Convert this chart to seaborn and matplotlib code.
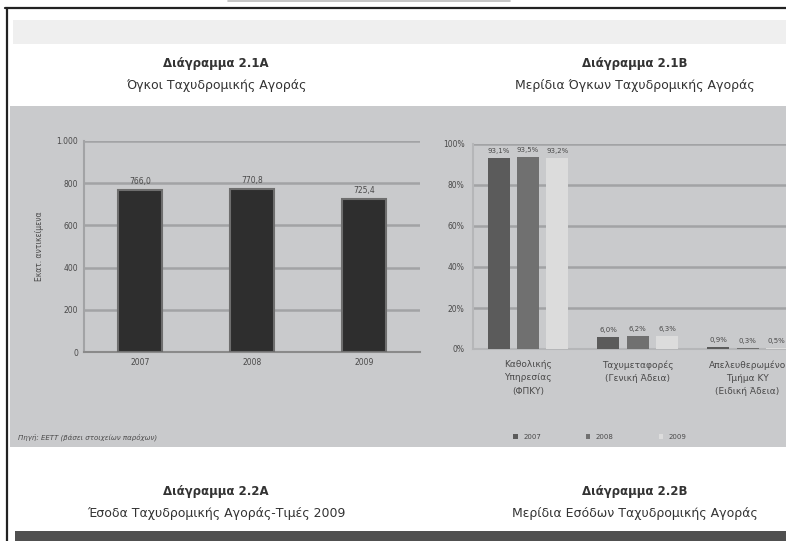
import matplotlib
matplotlib.use("Agg")
import matplotlib.pyplot as plt
from matplotlib.patches import Rectangle
import seaborn as sns
import pandas as pd

# data
years = ["2007", "2008", "2009"]
volumes = [766.0, 770.8, 725.4]
volume_labels = ["766,0", "770,8", "725,4"]
y1_ticks = [0, 200, 400, 600, 800, 1000]
y1_ticklabels = ["0", "200", "400", "600", "800", "1.000"]

segments = ["Καθολικής\nΥπηρεσίας\n(ΦΠΚΥ)",
            "Ταχυμεταφορές\n(Γενική Άδεια)",
            "Απελευθερωμένο\nΤμήμα ΚΥ\n(Ειδική Άδεια)"]
share_2007 = [93.1, 6.0, 0.9]
share_2008 = [93.5, 6.2, 0.3]
share_2009 = [93.2, 6.3, 0.5]
y2_ticks = [0, 20, 40, 60, 80, 100]
y2_ticklabels = ["0%", "20%", "40%", "60%", "80%", "100%"]

W, H = 786, 541
PANEL = "#c9cacc"
GRID = "#a2a3a5"
TXT = "#4a4a4a"

sns.set_style("white")
plt.rcParams["font.family"] = ["DejaVu Sans"]

fig = plt.figure(figsize=(W / 100, H / 100), dpi=100)
fig.patch.set_facecolor("white")


def rect(x0, y0, x1, y1, **kw):
    fig.patches.append(Rectangle((x0 / W, 1 - y1 / H), (x1 - x0) / W, (y1 - y0) / H,
                                 transform=fig.transFigure, zorder=-5, **kw))


def px_axes(x0, y0, x1, y1):
    return fig.add_axes([x0 / W, 1 - y1 / H, (x1 - x0) / W, (y1 - y0) / H])


# page decoration
rect(13, 20, W, 44, facecolor="#efefef", edgecolor="none")
rect(10, 106, W, 447, facecolor=PANEL, edgecolor="none")
rect(15, 531, W, H, facecolor="#505050", edgecolor="none")
fig.add_artist(plt.Line2D([5 / W, 1], [1 - 8 / H] * 2, color="#222222", lw=1.6))
fig.add_artist(plt.Line2D([7 / W] * 2, [0, 1 - 8 / H], color="#222222", lw=1.6))
fig.add_artist(plt.Line2D([228 / W, 510 / W], [1 - 1 / H] * 2, color="#bbbbbb", lw=1.2))

# titles
tkw = dict(ha="center", va="center", color="#333333")
fig.text(216 / W, 1 - 63 / H, "Διάγραμμα 2.1Α", fontsize=8.5, fontweight="bold", **tkw)
fig.text(216 / W, 1 - 86 / H, "Όγκοι Ταχυδρομικής Αγοράς", fontsize=9, **tkw)
fig.text(635 / W, 1 - 63 / H, "Διάγραμμα 2.1Β", fontsize=8.5, fontweight="bold", **tkw)
fig.text(635 / W, 1 - 86 / H, "Μερίδια Όγκων Ταχυδρομικής Αγοράς", fontsize=9, **tkw)
fig.text(216 / W, 1 - 492 / H, "Διάγραμμα 2.2Α", fontsize=8.5, fontweight="bold", **tkw)
fig.text(216 / W, 1 - 514 / H, "Έσοδα Ταχυδρομικής Αγοράς-Τιμές 2009", fontsize=9, **tkw)
fig.text(635 / W, 1 - 492 / H, "Διάγραμμα 2.2Β", fontsize=8.5, fontweight="bold", **tkw)
fig.text(635 / W, 1 - 514 / H, "Μερίδια Εσόδων Ταχυδρομικής Αγοράς", fontsize=9, **tkw)
fig.text(18 / W, 1 - 437 / H, "Πηγή: ΕΕΤΤ (βάσει στοιχείων παρόχων)", fontsize=5,
         color=TXT, ha="left", va="center", style="italic")

# left chart: volumes
ax1 = px_axes(84, 141, 420, 352)
ax1.patch.set_alpha(0)
sns.barplot(x=years, y=volumes, ax=ax1, color="#2e2e2e", width=0.4,
            edgecolor="#6e6e6e", linewidth=1.5, saturation=1, zorder=3)
ax1.set_ylim(0, 1000)
ax1.set_xlim(-0.5, 2.5)
ax1.set_yticks(y1_ticks, y1_ticklabels)
ax1.yaxis.grid(True, color=GRID, lw=1.8, zorder=0)
ax1.set_axisbelow(True)
for s in ["top", "right"]:
    ax1.spines[s].set_visible(False)
ax1.spines["left"].set_color(GRID)
ax1.spines["left"].set_linewidth(1.5)
ax1.spines["bottom"].set_color("#8a8a8a")
ax1.spines["bottom"].set_linewidth(1.5)
ax1.tick_params(axis="both", labelsize=5.5, colors=TXT, length=0, pad=4)
ax1.set_xticks([0.5, 1.5], minor=True)
ax1.tick_params(axis="x", which="minor", length=3, color="#8a8a8a")
ax1.set_ylabel("Εκατ. αντικείμενα", fontsize=5.5, color=TXT, labelpad=9)
ax1.bar_label(ax1.containers[0], labels=volume_labels, fontsize=5.5, color=TXT, padding=3)

# right chart: shares
shares = pd.DataFrame({
    "segment": segments * 3,
    "year": [y for y in years for _ in segments],
    "share": share_2007 + share_2008 + share_2009,
})
ax2 = px_axes(473, 144, W, 349)
ax2.patch.set_alpha(0)
palette = {"2007": "#5b5b5b", "2008": "#707070", "2009": "#dcdcdc"}
sns.barplot(data=shares, x="segment", y="share", hue="year", hue_order=years,
            palette=palette, ax=ax2, width=0.8, gap=0.25, saturation=1,
            edgecolor="none", linewidth=0, zorder=3)
ax2.set_ylim(0, 100)
ax2.set_xlim(-0.5, 2.35)
ax2.set_yticks(y2_ticks, y2_ticklabels)
ax2.yaxis.grid(True, color=GRID, lw=1.8, zorder=0)
ax2.set_axisbelow(True)
for s in ["top", "right"]:
    ax2.spines[s].set_visible(False)
ax2.spines["left"].set_color("#b5b6b8")
ax2.spines["left"].set_linewidth(1.5)
ax2.spines["bottom"].set_color("#b5b6b8")
ax2.spines["bottom"].set_linewidth(1.5)
ax2.tick_params(axis="y", labelsize=5.5, colors=TXT, length=0, pad=6)
ax2.tick_params(axis="x", labelsize=6.5, colors=TXT, length=0, pad=8)
for lbl in ax2.get_xticklabels():
    lbl.set_linespacing(1.6)
ax2.set_xlabel("")
ax2.set_ylabel("")
share_cols = [share_2007, share_2008, share_2009]
for cont, vals in zip(ax2.containers, share_cols):
    ax2.bar_label(cont, labels=[f"{v:.1f}%".replace(".", ",") for v in vals],
                  fontsize=5, color=TXT, padding=3)

handles, labels = ax2.get_legend_handles_labels()
ax2.legend_.remove()
fig.legend(handles, labels, loc="center", bbox_to_anchor=(600 / W, 1 - 437 / H), ncol=3,
           frameon=False, fontsize=5, handlelength=0.6, handleheight=0.6,
           columnspacing=6.5, labelcolor=TXT)

fig.savefig("out.png", dpi=100, facecolor="white")
